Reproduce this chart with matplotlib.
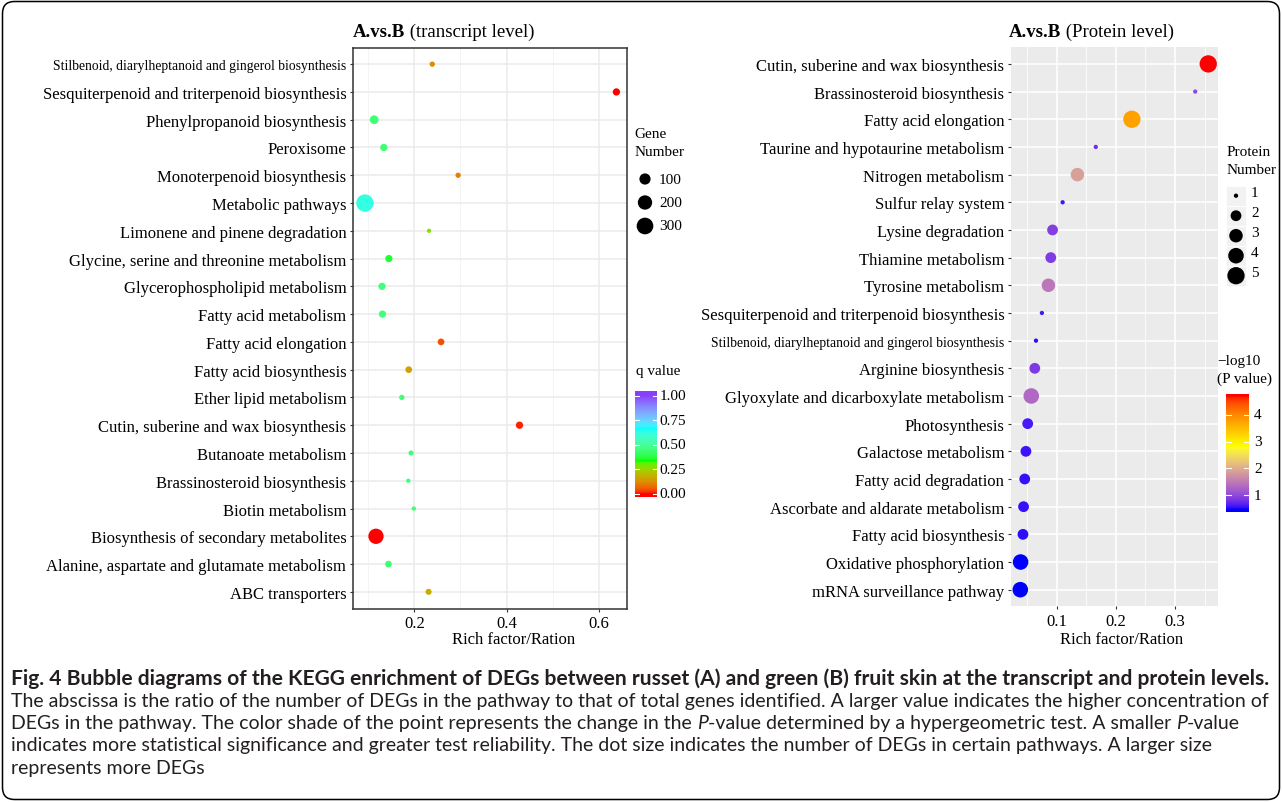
import numpy as np
import matplotlib
matplotlib.use("Agg")
import matplotlib.pyplot as plt
from matplotlib.colors import ListedColormap, Normalize, to_rgb
from matplotlib.patches import FancyBboxPatch, Rectangle
from matplotlib import font_manager

# ------------------------------------------------------------------ data
tx_pathways = [
    "Stilbenoid, diarylheptanoid and gingerol biosynthesis",
    "Sesquiterpenoid and triterpenoid biosynthesis",
    "Phenylpropanoid biosynthesis",
    "Peroxisome",
    "Monoterpenoid biosynthesis",
    "Metabolic pathways",
    "Limonene and pinene degradation",
    "Glycine, serine and threonine metabolism",
    "Glycerophospholipid metabolism",
    "Fatty acid metabolism",
    "Fatty acid elongation",
    "Fatty acid biosynthesis",
    "Ether lipid metabolism",
    "Cutin, suberine and wax biosynthesis",
    "Butanoate metabolism",
    "Brassinosteroid biosynthesis",
    "Biotin metabolism",
    "Biosynthesis of secondary metabolites",
    "Alanine, aspartate and glutamate metabolism",
    "ABC transporters",
]
tx_rich = [0.239, 0.638, 0.113, 0.134, 0.295, 0.093, 0.232, 0.145, 0.130, 0.131,
           0.258, 0.188, 0.173, 0.428, 0.193, 0.187, 0.199, 0.117, 0.144, 0.231]
tx_genes = [12, 27, 47, 27, 12, 330, 10, 27, 27, 27,
            21, 21, 12, 27, 11, 10, 10, 239, 21, 16]
tx_q = [0.12, 0.00, 0.44, 0.44, 0.10, 0.62, 0.27, 0.36, 0.45, 0.45,
        0.04, 0.15, 0.44, 0.01, 0.43, 0.45, 0.43, 0.00, 0.44, 0.17]

pr_pathways = [
    "Cutin, suberine and wax biosynthesis",
    "Brassinosteroid biosynthesis",
    "Fatty acid elongation",
    "Taurine and hypotaurine metabolism",
    "Nitrogen metabolism",
    "Sulfur relay system",
    "Lysine degradation",
    "Thiamine metabolism",
    "Tyrosine metabolism",
    "Sesquiterpenoid and triterpenoid biosynthesis",
    "Stilbenoid, diarylheptanoid and gingerol biosynthesis",
    "Arginine biosynthesis",
    "Glyoxylate and dicarboxylate metabolism",
    "Photosynthesis",
    "Galactose metabolism",
    "Fatty acid degradation",
    "Ascorbate and aldarate metabolism",
    "Fatty acid biosynthesis",
    "Oxidative phosphorylation",
    "mRNA surveillance pathway",
]
pr_rich = [0.356, 0.334, 0.227, 0.166, 0.135, 0.110, 0.093, 0.090, 0.086, 0.075,
           0.065, 0.063, 0.057, 0.051, 0.048, 0.046, 0.044, 0.043, 0.039, 0.0385]
pr_count = [5, 1, 5, 1, 3, 1, 2, 2, 3, 1, 1, 2, 4, 2, 2, 2, 2, 2, 4, 4]
pr_logp = [4.67, 0.98, 3.73, 0.75, 1.85, 0.58, 0.90, 0.88, 1.45, 0.60,
           0.52, 0.85, 1.30, 0.60, 0.56, 0.55, 0.54, 0.53, 0.48, 0.47]

gene_breaks = [100, 200, 300]
prot_breaks = [1, 2, 3, 4, 5]
q_ticks = [0.0, 0.25, 0.5, 0.75, 1.0]
p_ticks = [1, 2, 3, 4]

caption_bold = ("Fig. 4 Bubble diagrams of the KEGG enrichment of DEGs between russet (A) "
                "and green (B) fruit skin at the transcript and protein levels.")
caption_lines = [
    [("The abscissa is the ratio of the number of DEGs in the pathway to that of total genes "
      "identified. A larger value indicates the higher concentration of", "normal")],
    [("DEGs in the pathway. The color shade of the point represents the change in the ", "normal"),
     ("P", "italic"),
     ("-value determined by a hypergeometric test. A smaller ", "normal"),
     ("P", "italic"),
     ("-value", "normal")],
    [("indicates more statistical significance and greater test reliability. The dot size "
      "indicates the number of DEGs in certain pathways. A larger size", "normal")],
    [("represents more DEGs", "normal")],
]

# ------------------------------------------------------------------ helpers
W, H = 1282, 803
fig = plt.figure(figsize=(W / 100, H / 100), dpi=100)
fig.patch.set_facecolor("white")
plt.rcParams["font.family"] = ["Liberation Serif", "DejaVu Serif"]
R = fig.canvas.get_renderer()

avail = {f.name for f in font_manager.fontManager.ttflist}
CAP_FONT = "Lato" if "Lato" in avail else "DejaVu Sans"


def px_axes(l, t, r, b):
    return fig.add_axes([l / W, 1 - b / H, (r - l) / W, (b - t) / H])


def srgb_to_lab(c):
    c = np.asarray(c, float)
    lin = np.where(c <= 0.04045, c / 12.92, ((c + 0.055) / 1.055) ** 2.4)
    M = np.array([[0.4124, 0.3576, 0.1805], [0.2126, 0.7152, 0.0722], [0.0193, 0.1192, 0.9505]])
    xyz = M @ lin / np.array([0.95047, 1.0, 1.08883])
    d = 6 / 29
    f = np.where(xyz > d ** 3, np.cbrt(xyz), xyz / (3 * d * d) + 4 / 29)
    return np.array([116 * f[1] - 16, 500 * (f[0] - f[1]), 200 * (f[1] - f[2])])


def lab_to_srgb(lab):
    L, a, b = lab
    fy = (L + 16) / 116
    fx = fy + a / 500
    fz = fy - b / 200
    d = 6 / 29
    f = np.array([fx, fy, fz])
    xyz = np.where(f > d, f ** 3, 3 * d * d * (f - 4 / 29)) * np.array([0.95047, 1.0, 1.08883])
    Minv = np.array([[3.2406, -1.5372, -0.4986], [-0.9689, 1.8758, 0.0415], [0.0557, -0.2040, 1.0570]])
    lin = np.clip(Minv @ xyz, 0, 1)
    c = np.where(lin <= 0.0031308, 12.92 * lin, 1.055 * lin ** (1 / 2.4) - 0.055)
    return np.clip(c, 0, 1)


def lab_cmap(anchors, n=256):
    pos = [p for p, _ in anchors]
    labs = [srgb_to_lab(to_rgb(c)) for _, c in anchors]
    cols = []
    for t in np.linspace(0, 1, n):
        i = max(0, min(len(pos) - 2, np.searchsorted(pos, t, side="right") - 1))
        u = (t - pos[i]) / (pos[i + 1] - pos[i])
        cols.append(lab_to_srgb(labs[i] * (1 - u) + labs[i + 1] * u))
    return ListedColormap(np.array(cols))


def size_s(v, vmin, vmax):
    v = np.asarray(v, float)
    d_px = 1.7 + 2.6 * (1 + 5 * np.sqrt((v - vmin) / (vmax - vmin)))
    return (d_px * 0.72) ** 2


def adv(s, **kw):
    t1 = fig.text(0, 0, s + "x", **kw)
    t2 = fig.text(0, 0, "x", **kw)
    w = t1.get_window_extent(renderer=R).width - t2.get_window_extent(renderer=R).width
    t1.remove()
    t2.remove()
    return w


def seq_text(x, y, segs, **kw):
    for s, extra in segs:
        k = dict(kw)
        k.update(extra)
        fig.text(x / W, 1 - y / H, s, ha="left", va="center", **k)
        x += adv(s, **k)
    return x


def ftext(x, y, s, **kw):
    kw.setdefault("va", "center")
    kw.setdefault("ha", "left")
    return fig.text(x / W, 1 - y / H, s, **kw)


q_cmap = lab_cmap([(0.0, "red"), (1 / 3, "#00FF00"), (2 / 3, "cyan"), (1.0, "#8A3FFC")])
q_norm = Normalize(0, 1)
p_lo, p_hi, p_mid = min(pr_logp), max(pr_logp), 2.8
p_cmap = lab_cmap([(0.0, "blue"), ((p_mid - p_lo) / (p_hi - p_lo), "yellow"), (1.0, "red")])
p_norm = Normalize(p_lo, p_hi)

# ------------------------------------------------------------------ left panel
axL = px_axes(353, 48.5, 627.3, 609.5)
n = len(tx_pathways)
yl = np.arange(n)[::-1]
gmin, gmax = min(tx_genes), max(tx_genes)
axL.scatter(tx_rich, yl, s=size_s(tx_genes, gmin, gmax), c=tx_q, cmap=q_cmap, norm=q_norm,
            linewidths=0, zorder=3)
axL.set_xlim(0.0672, 0.6616)
axL.set_ylim(-0.6, n - 1 + 0.6)
axL.set_yticks(yl)
axL.set_yticklabels(tx_pathways, fontsize=12, color="black")
axL.set_xticks([0.2, 0.4, 0.6])
axL.set_xticklabels(["0.2", "0.4", "0.6"], fontsize=12, color="black")
axL.set_xticks([0.1, 0.3, 0.5], minor=True)
axL.set_axisbelow(True)
axL.grid(which="major", color="#EBEBEB", lw=1.1)
axL.grid(which="minor", axis="x", color="#F2F2F2", lw=0.6)
axL.tick_params(which="major", length=2.3, width=0.8, color="#333333", pad=2.5)
axL.tick_params(which="minor", length=0)
for sp in axL.spines.values():
    sp.set_color("#333333")
    sp.set_linewidth(1.1)
for lab in axL.get_yticklabels():
    if lab.get_text().startswith("Stilbenoid"):
        lab.set_fontsize(9.8)

# ------------------------------------------------------------------ right panel
axR = px_axes(1011, 48.3, 1218.3, 607.3)
m = len(pr_pathways)
yr = np.arange(m)[::-1]
axR.set_facecolor("#EBEBEB")
axR.scatter(pr_rich, yr, s=size_s(pr_count, 1, 5), c=pr_logp, cmap=p_cmap, norm=p_norm,
            linewidths=0, zorder=3)
axR.set_xlim(0.0228, 0.373)
axR.set_ylim(-0.6, m - 1 + 0.6)
axR.set_yticks(yr)
axR.set_yticklabels(pr_pathways, fontsize=12, color="black")
axR.set_xticks([0.1, 0.2, 0.3])
axR.set_xticklabels(["0.1", "0.2", "0.3"], fontsize=12, color="black")
axR.set_xticks([0.05, 0.15, 0.25, 0.35], minor=True)
axR.set_axisbelow(True)
axR.grid(which="major", color="white", lw=1.1)
axR.grid(which="minor", axis="x", color="white", lw=0.55)
axR.tick_params(which="major", length=2.3, width=0.8, color="#333333", pad=2.5)
axR.tick_params(which="minor", length=0)
for sp in axR.spines.values():
    sp.set_visible(False)
for lab in axR.get_yticklabels():
    if lab.get_text().startswith("Stilbenoid"):
        lab.set_fontsize(9.8)

# axis titles and plot titles
ftext(514, 640, "Rich factor/Ration", fontsize=12, ha="center")
ftext(1122, 640, "Rich factor/Ration", fontsize=12, ha="center")
seq_text(353, 32.5, [("A.vs.B", {"weight": "bold"}), (" (transcript level)", {})], fontsize=13.5)
seq_text(1008.5, 32.5, [("A.vs.B", {"weight": "bold"}), (" (Protein level)", {})], fontsize=13.5)

# ------------------------------------------------------------------ overlay (legends, frame)
ov = fig.add_axes([0, 0, 1, 1], zorder=-1)
ov.set_xlim(0, W)
ov.set_ylim(H, 0)
ov.axis("off")

# Gene Number legend
ftext(634.5, 135, "Gene", fontsize=11)
ftext(634.5, 153, "Number", fontsize=11)
gy = [180, 203.5, 227]
ov.scatter([645] * 3, gy, s=size_s(gene_breaks, gmin, gmax), color="black", linewidths=0)
for yy, b in zip(gy, gene_breaks):
    ftext(659, yy, str(b), fontsize=11)

# q value colorbar
ftext(635.5, 372, "q value", fontsize=11)
caxL = px_axes(635, 392.3, 657, 498.3)
qlo, qhi = -0.034, 1.045
grad = np.linspace(qlo, qhi, 256)[:, None]
caxL.imshow(np.clip(grad, 0, 1), cmap=q_cmap, norm=q_norm, aspect="auto", origin="lower",
            extent=[0, 1, qlo, qhi])
caxL.set_xlim(0, 1)
caxL.set_ylim(qlo, qhi)
caxL.axis("off")
for v in q_ticks:
    caxL.plot([0, 0.2], [v, v], color="white", lw=0.8)
    caxL.plot([0.8, 1], [v, v], color="white", lw=0.8)
    yy = 495 - (v - 0) * 98.3
    ftext(659.5, yy, f"{v:.2f}", fontsize=11)

# Protein Number legend
ftext(1227, 153, "Protein", fontsize=11)
ftext(1227, 171, "Number", fontsize=11)
ky = [196.7, 216.7, 236.7, 256.7, 276.7]
for yy in ky:
    ov.add_patch(Rectangle((1226, yy - 10), 20, 20, facecolor="#F2F2F2", edgecolor="white", lw=0.6))
ov.scatter([1236] * 5, ky, s=size_s(prot_breaks, 1, 5), color="black", linewidths=0, zorder=3)
for yy, b in zip(ky, prot_breaks):
    ftext(1251, yy - 3, str(b), fontsize=11)

# -log10 P colorbar
ftext(1217, 362, "\u2212log10", fontsize=11)
ftext(1217, 379, "(P value)", fontsize=11)
caxR = px_axes(1226, 395, 1249, 513.3)
plo, phi = 0.368, 4.77
grad = np.linspace(plo, phi, 256)[:, None]
caxR.imshow(np.clip(grad, p_lo, p_hi), cmap=p_cmap, norm=p_norm, aspect="auto", origin="lower",
            extent=[0, 1, plo, phi])
caxR.set_xlim(0, 1)
caxR.set_ylim(plo, phi)
caxR.axis("off")
for v in p_ticks:
    caxR.plot([0, 0.2], [v, v], color="white", lw=0.8)
    caxR.plot([0.8, 1], [v, v], color="white", lw=0.8)
    yy = 415.7 + (4 - v) * 26.87
    ftext(1254, yy, str(v), fontsize=11)

# frame
ov.add_patch(FancyBboxPatch((2.5, 2.5), W - 5, H - 5, boxstyle="round,pad=0,rounding_size=12",
                            facecolor="none", edgecolor="black", lw=1.1))

# ------------------------------------------------------------------ caption
cap_kw = dict(family=CAP_FONT, color="#231F20")
probe = fig.text(0, 0, caption_lines[0][0][0], fontsize=12, **cap_kw)
fs_n = 12 * 1252 / probe.get_window_extent(renderer=R).width
probe.remove()
probe = fig.text(0, 0, caption_bold, fontsize=12, weight="bold", **cap_kw)
fs_b = 12 * 1252 / probe.get_window_extent(renderer=R).width
probe.remove()

ftext(11, 679, caption_bold, fontsize=fs_b, weight="bold", **cap_kw)
for i, segs in enumerate(caption_lines):
    yy = 701 + i * 22.4
    seq_text(11, yy, [(s, {"style": st}) for s, st in segs], fontsize=fs_n, **cap_kw)

fig.savefig("out.png", dpi=100)
